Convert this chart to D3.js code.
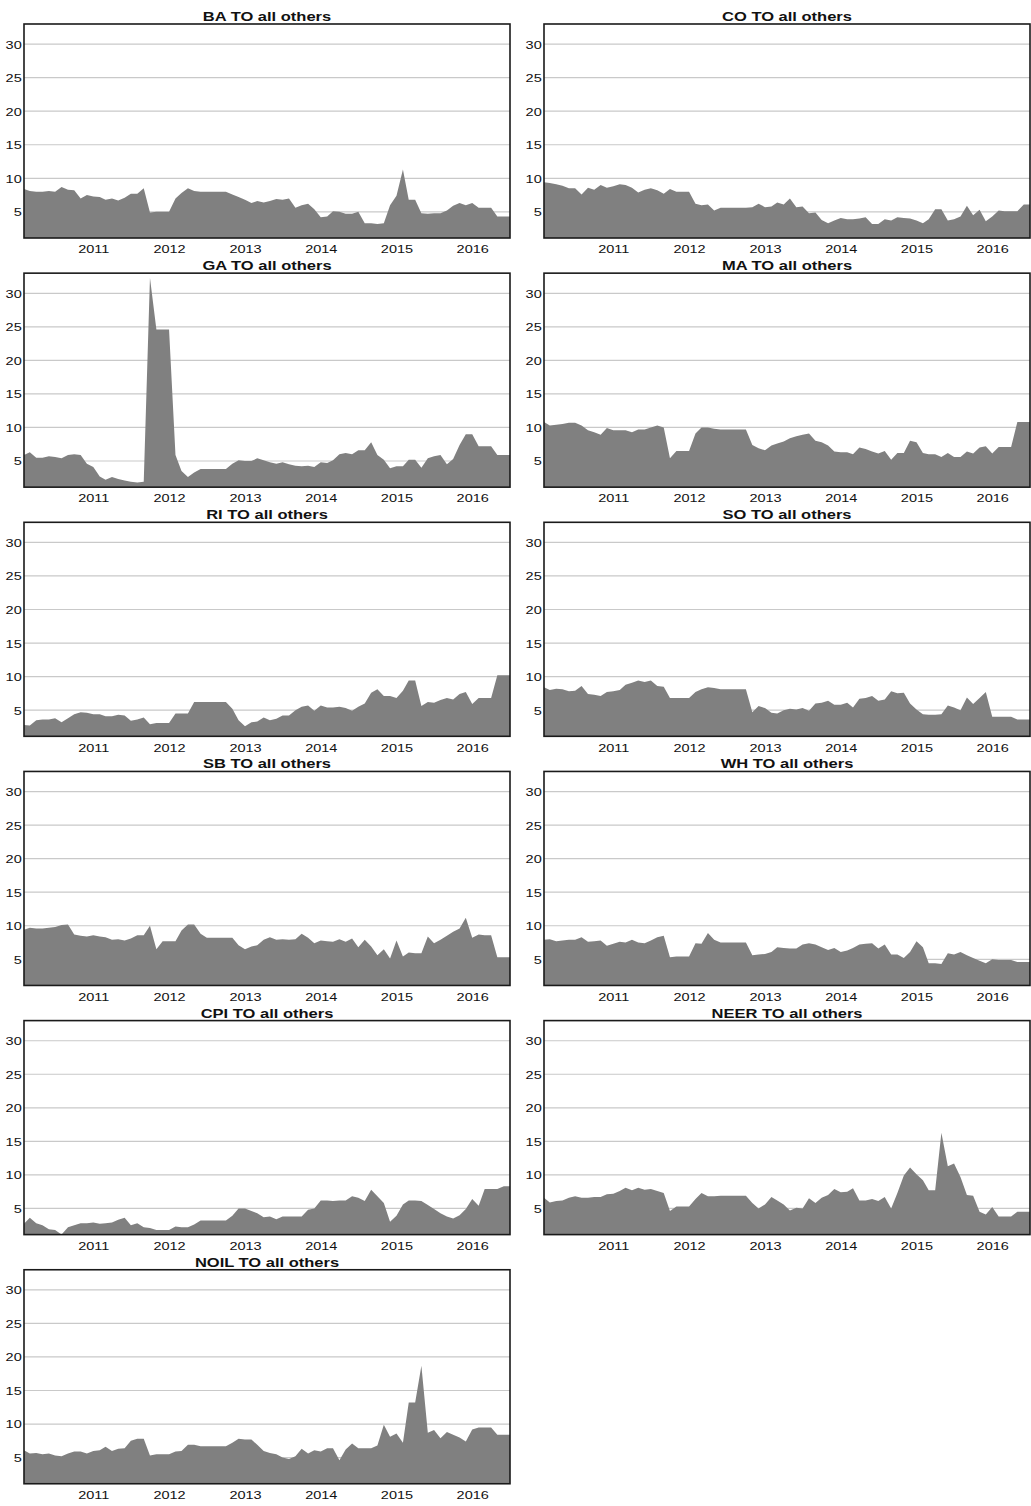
<!DOCTYPE html>
<html>
<head>
<meta charset="utf-8">
<script src="https://cdn.jsdelivr.net/npm/d3@7"></script>
<style>
  body { margin: 0; background: #fff; }
  text { font-family: "Liberation Sans", Arial, sans-serif; fill: #111; }
</style>
</head>
<body>
<svg id="chart" width="1031" height="1506"></svg>
<script>
// monthly observations, Feb 2010 .. Jul 2016
const months = d3.timeMonth.range(new Date(2010, 1, 1), new Date(2016, 7, 1));
const yearTicks = [2011, 2012, 2013, 2014, 2015, 2016];
const yTicks = [5, 10, 15, 20, 25, 30];

const titles = ["BA TO all others", "CO TO all others", "GA TO all others", "MA TO all others",
  "RI TO all others", "SO TO all others", "SB TO all others", "WH TO all others",
  "CPI TO all others", "NEER TO all others", "NOIL TO all others"];

const ba = [8.4,8.1,8.0,8.0,8.1,8.0,8.7,8.3,8.2,7.0,7.5,7.3,7.2,6.8,7.0,6.7,7.1,7.7,7.7,8.5,
  4.9,5.0,5.0,5.0,7.0,7.8,8.5,8.1,8.0,8.0,8.0,8.0,8.0,7.6,7.2,6.8,6.3,6.6,6.4,6.6,
  6.9,6.8,7.0,5.6,6.0,6.2,5.4,4.2,4.3,5.1,5.0,4.7,4.7,5.0,3.3,3.3,3.2,3.3,6.0,7.4,
  11.3,6.8,6.8,4.8,4.7,4.8,4.8,5.2,5.9,6.3,6.0,6.3,5.6,5.6,5.6,4.3,4.3,4.3];
const co = [9.4,9.3,9.1,8.9,8.5,8.5,7.6,8.6,8.3,9.0,8.6,8.8,9.1,9.0,8.6,7.9,8.3,8.5,8.2,7.7,
  8.4,8.0,8.0,8.0,6.2,6.0,6.1,5.2,5.6,5.6,5.6,5.6,5.6,5.7,6.2,5.7,5.8,6.4,6.1,7.0,
  5.7,5.8,4.8,4.9,3.8,3.3,3.7,4.1,3.9,3.9,4.0,4.2,3.2,3.2,3.9,3.7,4.2,4.1,4.0,3.7,
  3.3,3.9,5.4,5.4,3.7,3.9,4.3,5.9,4.5,5.3,3.6,4.3,5.2,5.1,5.1,5.1,6.1,6.1];
const ga = [5.9,6.3,5.5,5.5,5.7,5.6,5.4,5.9,6.0,5.9,4.6,4.1,2.7,2.2,2.6,2.3,2.1,1.9,1.8,1.9,
  32.3,24.6,24.6,24.6,5.9,3.5,2.6,3.3,3.8,3.8,3.8,3.8,3.8,4.6,5.1,5.0,5.0,5.4,5.1,4.8,
  4.6,4.8,4.5,4.3,4.2,4.3,4.1,4.8,4.7,5.1,6.0,6.2,6.0,6.6,6.6,7.8,5.9,5.2,3.9,4.2,
  4.2,5.2,5.2,4.0,5.4,5.7,5.9,4.5,5.3,7.4,9.0,9.0,7.2,7.2,7.2,5.9,5.9,5.9];
const ma = [10.8,10.3,10.4,10.5,10.7,10.7,10.3,9.6,9.3,8.9,9.9,9.6,9.6,9.6,9.3,9.7,9.7,10.0,10.3,10.0,
  5.4,6.5,6.5,6.5,9.1,10.0,10.0,9.8,9.7,9.7,9.7,9.7,9.7,7.4,6.9,6.6,7.3,7.6,7.9,8.4,
  8.7,8.9,9.1,8.0,7.8,7.3,6.4,6.3,6.3,6.0,7.0,6.8,6.4,6.1,6.5,5.2,6.2,6.2,8.0,7.8,
  6.2,6.0,6.0,5.6,6.2,5.6,5.6,6.4,6.1,7.0,7.2,6.1,7.1,7.1,7.1,10.8,10.8,10.8];
const ri = [2.8,2.7,3.5,3.6,3.6,3.8,3.2,3.8,4.4,4.7,4.6,4.4,4.4,4.1,4.1,4.3,4.2,3.4,3.6,3.9,
  2.9,3.1,3.1,3.1,4.5,4.5,4.5,6.2,6.2,6.2,6.2,6.2,6.2,5.2,3.5,2.6,3.2,3.3,3.9,3.5,
  3.7,4.2,4.2,5.0,5.5,5.7,4.9,5.7,5.4,5.4,5.5,5.3,4.9,5.5,6.0,7.6,8.1,7.1,7.1,6.8,
  7.9,9.4,9.4,5.6,6.2,6.1,6.5,6.8,6.6,7.4,7.7,5.9,6.8,6.8,6.8,10.2,10.2,10.2];
const so = [8.4,8.0,8.2,8.1,7.8,7.9,8.6,7.4,7.3,7.1,7.7,7.8,8.0,8.8,9.1,9.4,9.2,9.4,8.6,8.5,
  6.8,6.8,6.8,6.8,7.7,8.1,8.4,8.3,8.1,8.1,8.1,8.1,8.1,4.7,5.6,5.3,4.6,4.5,5.0,5.2,
  5.1,5.3,4.9,6.0,6.1,6.4,5.8,5.8,6.1,5.4,6.7,6.8,7.1,6.4,6.6,7.8,7.5,7.6,6.0,5.1,
  4.4,4.3,4.3,4.4,5.7,5.4,5.0,6.9,5.9,6.8,7.7,4.0,4.0,4.0,4.0,3.6,3.6,3.6];
const sb = [9.4,9.7,9.6,9.6,9.7,9.8,10.1,10.2,8.7,8.5,8.4,8.6,8.4,8.3,7.9,8.0,7.8,8.1,8.6,8.6,
  10.0,6.5,7.7,7.7,7.7,9.3,10.2,10.2,8.8,8.2,8.2,8.2,8.2,8.2,7.1,6.5,6.9,7.1,7.9,8.3,
  7.9,8.0,7.9,8.0,8.8,8.2,7.4,7.8,7.7,7.6,8.0,7.6,8.1,6.8,7.9,6.9,5.6,6.5,5.1,7.8,
  5.4,6.0,5.9,5.9,8.4,7.4,7.9,8.5,9.1,9.6,11.2,8.2,8.7,8.6,8.6,5.3,5.3,5.3];
const wh = [7.9,8.0,7.7,7.8,7.9,7.9,8.3,7.6,7.7,7.8,7.0,7.3,7.6,7.5,7.9,7.5,7.4,7.8,8.3,8.5,
  5.3,5.4,5.4,5.4,7.4,7.3,8.9,7.9,7.5,7.5,7.5,7.5,7.5,5.6,5.7,5.8,6.1,6.8,6.7,6.6,
  6.6,7.2,7.4,7.2,6.8,6.4,6.7,6.1,6.3,6.7,7.2,7.3,7.4,6.6,7.2,5.7,5.7,5.2,6.1,7.7,
  6.8,4.4,4.4,4.3,5.9,5.7,6.1,5.6,5.2,4.8,4.4,5.0,4.9,4.9,4.9,4.6,4.6,4.6];
const cpi = [2.7,3.6,2.8,2.5,1.9,1.8,1.1,2.2,2.5,2.8,2.8,2.9,2.7,2.8,2.9,3.3,3.6,2.5,2.8,2.2,
  2.1,1.8,1.8,1.8,2.3,2.2,2.2,2.6,3.2,3.2,3.2,3.2,3.2,3.9,5.0,5.0,4.6,4.3,3.7,3.8,
  3.4,3.8,3.8,3.8,3.8,4.8,5.0,6.2,6.2,6.1,6.2,6.2,6.8,6.6,6.1,7.8,6.8,5.8,3.0,3.9,
  5.6,6.2,6.2,6.1,5.5,4.9,4.3,3.8,3.5,4.0,4.9,6.4,5.4,7.9,7.9,7.9,8.3,8.3];
const neer = [6.6,5.9,6.1,6.2,6.6,6.8,6.6,6.6,6.7,6.7,7.1,7.2,7.6,8.1,7.7,8.1,7.8,7.9,7.6,7.3,
  4.6,5.3,5.3,5.3,6.4,7.3,6.8,6.8,6.9,6.9,6.9,6.9,6.9,5.8,5.0,5.6,6.7,6.2,5.6,4.7,
  5.1,5.0,6.5,5.8,6.6,7.0,7.9,7.4,7.5,8.0,6.2,6.2,6.4,6.1,6.7,5.0,7.3,9.9,11.1,10.1,
  9.2,7.7,7.7,16.3,11.3,11.7,9.7,7.0,6.9,4.5,4.1,5.2,3.8,3.8,3.8,4.5,4.5,4.5];
const noil = [6.1,5.6,5.7,5.5,5.6,5.3,5.2,5.6,5.9,5.9,5.6,6.0,6.1,6.6,6.0,6.3,6.4,7.5,7.8,7.8,
  5.3,5.5,5.5,5.5,5.9,6.0,6.9,6.9,6.7,6.7,6.7,6.7,6.7,7.2,7.8,7.7,7.7,6.9,6.0,5.7,
  5.5,5.0,4.8,5.2,6.3,5.6,6.1,5.9,6.4,6.4,4.6,6.2,7.1,6.4,6.4,6.4,6.8,9.9,8.1,8.6,
  7.2,13.2,13.2,18.7,8.7,9.1,7.9,8.8,8.4,8.0,7.4,9.2,9.5,9.5,9.5,8.4,8.4,8.4];

const series = [ba, co, ga, ma, ri, so, sb, wh, cpi, neer, noil];

// layout
const colX = [24, 544];
const panelW = 486, panelH = 214;
const rowTop = r => 24 + r * 249.15;
const stretch = "scale(1.25,1)";   // the source picture is widened horizontally

const svg = d3.select("#chart");
svg.append("rect").attr("width", 1031).attr("height", 1506).attr("fill", "#fff");

const x = d3.scaleTime()
  .domain([months[0], months[months.length - 1]])
  .range([0, panelW]);

const y = d3.scaleLinear()
  .domain([1.1, 33])
  .range([panelH, 0]);

const area = d3.area()
  .x((d, i) => x(months[i]))
  .y0(panelH)
  .y1(d => y(d));

series.forEach((vals, k) => {
  const g = svg.append("g")
    .attr("transform", "translate(" + colX[k % 2] + "," + rowTop(Math.floor(k / 2)) + ")");

  // horizontal grid
  g.selectAll(".grid")
    .data(yTicks)
    .enter().append("line")
    .attr("x1", 0).attr("x2", panelW)
    .attr("y1", d => y(d)).attr("y2", d => y(d))
    .attr("stroke", "#c9c9c9")
    .attr("stroke-width", 1.2);

  g.append("path")
    .datum(vals)
    .attr("d", area)
    .attr("fill", "#808080");

  g.append("rect")
    .attr("width", panelW).attr("height", panelH)
    .attr("fill", "none")
    .attr("stroke", "#1a1a1a")
    .attr("stroke-width", 1.6);

  // y axis labels
  const ya = g.append("g")
    .call(d3.axisLeft(y).tickValues(yTicks).tickSize(0).tickPadding(0));
  ya.select(".domain").remove();
  ya.selectAll("text")
    .attr("x", -1.8)
    .attr("dy", "0.34em")
    .attr("transform", stretch)
    .style("font-size", "11.6px")
    .style("fill", "#111");

  // x axis labels
  const xa = g.append("g")
    .attr("transform", "translate(0," + panelH + ")")
    .call(d3.axisBottom(x)
      .tickValues(yearTicks.map(yr => new Date(yr, 0, 1)))
      .tickFormat(d3.timeFormat("%Y"))
      .tickSize(0).tickPadding(7));
  xa.select(".domain").remove();
  xa.selectAll("text")
    .attr("transform", stretch)
    .style("font-size", "11.6px")
    .style("fill", "#111");

  // title
  g.append("text")
    .attr("transform", "translate(" + (panelW / 2) + ",-3) " + stretch)
    .attr("text-anchor", "middle")
    .style("font-size", "13.2px")
    .style("font-weight", "bold")
    .text(titles[k]);
});
</script>
</body>
</html>
